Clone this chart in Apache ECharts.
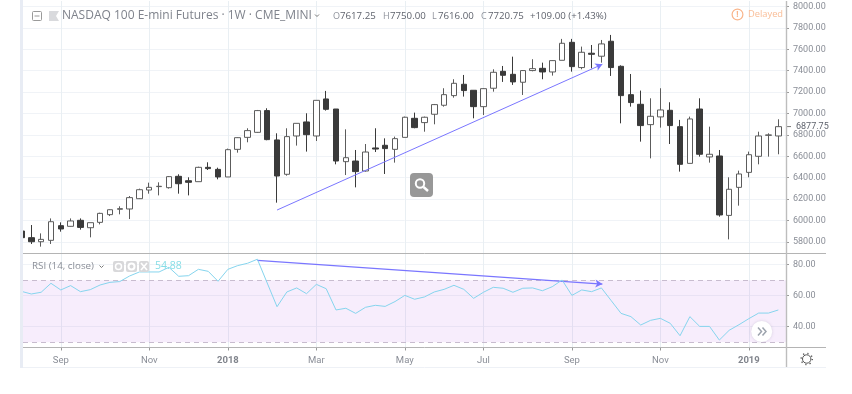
<!DOCTYPE html>
<html><head><meta charset="utf-8">
<style>html,body{margin:0;padding:0;background:#fff}#c{width:852px;height:394px}</style>
<script src="https://cdn.jsdelivr.net/npm/echarts@6/dist/echarts.min.js"></script>
</head><body><div id="c"></div>
<script>
const opens=[5902,5840,5802,5815,5952,5946,6002,5933,5983,6055,6105,6108,6204,6285,6317,6307,6413,6372,6363,6497,6478,6407,6665,6777,6824,7027,6753,6432,6790,6921,6790,7136,7042,6550,6556,6463,6678,6703,6665,6777,6955,6915,6993,7077,7167,7273,7217,7064,7236,7394,7366,7292,7401,7422,7388,7497,7665,7429,7563,7535,7675,7441,7176,7086,6896,6968,7030,6877,6534,7042,6594,6603,6048,6310,6450,6600,6796,6790];
const closes=[5840,5802,5824,5989,5921,5996,5936,5980,6067,6101,6111,6214,6288,6310,6320,6410,6344,6357,6497,6485,6407,6662,6774,6840,7027,6756,6416,6784,6908,6802,7123,7039,6556,6587,6457,6640,6668,6672,6765,6965,6868,6965,7083,7176,7282,7214,7064,7232,7385,7357,7295,7401,7419,7388,7494,7656,7438,7572,7553,7650,7429,7167,7102,6887,6974,7033,6887,6525,6949,6619,6619,6052,6292,6435,6615,6790,6800,6877];
const lows=[5834,5781,5756,5781,5896,5943,5915,5843,5964,6042,6058,6014,6201,6251,6235,6298,6251,6235,6363,6472,6385,6407,6634,6731,6820,6750,6167,6419,6700,6644,6743,7027,6525,6425,6310,6457,6640,6435,6541,6777,6862,6830,6899,7064,7148,7158,6955,6986,7204,7295,7267,7173,7394,7320,7354,7497,7391,7413,7422,7475,7351,6908,7064,6737,6581,6868,6715,6457,6534,6597,6541,6036,5824,6139,6404,6525,6597,6619];
const highs=[5918,5958,5880,6020,5983,6020,6020,5980,6073,6105,6133,6229,6298,6354,6357,6416,6432,6404,6503,6544,6494,6672,6777,6862,7033,7049,6815,6862,6908,7002,7123,7211,7042,6852,6659,6715,6862,6768,6784,6971,7008,6971,7089,7236,7320,7360,7217,7236,7413,7444,7531,7405,7507,7475,7497,7697,7697,7625,7640,7687,7734,7450,7369,7214,7142,7236,7105,6940,6971,7142,6877,6659,6404,6466,6644,6830,6815,6946];
const rsi=[62.8,61.1,62.2,68.0,63.7,66.5,62.6,63.9,66.9,68.6,69.1,72.7,75.3,75.3,75.3,78.3,72.5,72.9,77.0,75.7,69.3,77.0,79.4,80.9,83.5,68.2,52.9,62.4,65.0,61.3,67.3,64.5,50.8,51.9,48.6,52.5,53.8,53.1,56.2,60.2,57.7,59.2,62.4,64.1,66.7,64.1,58.3,62.2,65.4,64.8,62.2,64.8,65.0,63.2,65.8,70.1,60.2,63.7,62.6,65.0,56.8,48.6,46.5,41.1,44.1,45.4,42.2,34.2,46.5,40.2,40.2,31.4,37.7,41.3,45.2,48.8,48.8,50.8];
const tickWeeks=[4,13,21,30,39,47,56,65,74];
const tickLabels=['Sep','Nov','2018','Mar','May','Jul','Sep','Nov','2019'];
const priceTicks=[5800,6000,6200,6400,6600,6800,7000,7200,7400,7600,7800,8000];
const rsiTicks=[40,60,80];
const priceTrend=[[26,6098],[59.1,7460]];
const rsiTrend=[[24,82.8],[59.1,67.5]];
const lastPrice=6877.75;

const font='"Open Sans",sans-serif', axFont='Roboto,sans-serif';
const candles=opens.map((o,i)=>[i,o,closes[i],lows[i],highs[i]]);
const xMin=0.156,xMax=77.78;
const L=23,Rx=786,gridV='#e9eff3',gridH='#f0f3f7',frame='#b4b4b4',txt='#8a8e97',arrow='#7a76ff';
const xBase=(i,extra)=>Object.assign({type:'value',gridIndex:i,min:xMin,max:xMax,
  axisLine:{show:false},
  axisTick:{show:false,customValues:tickWeeks},
  axisLabel:{show:false,customValues:tickWeeks},
  splitLine:{show:true,lineStyle:{color:gridV,width:1}}},extra||{});
const yBase=(i,min,max,ticks)=>({type:'value',gridIndex:i,position:'right',min,max,
  axisLine:{show:false},
  axisTick:{show:true,length:3,inside:false,lineStyle:{color:'#9a9a9a'},customValues:ticks},
  axisLabel:{show:true,margin:7,padding:[2,0,0,0],color:txt,fontFamily:axFont,fontSize:9,customValues:ticks,formatter:v=>v.toFixed(2)},
  splitLine:{show:true,lineStyle:{color:gridH,width:1}}});
const T=(x,y,text,fill,size,extra)=>({type:'text',z:62,x,y,style:Object.assign({text,fill,fontSize:size,fontFamily:font,textVerticalAlign:'middle'},extra||{})});
const line=(x1,y1,x2,y2,c,w)=>({type:'line',z:50,shape:{x1,y1,x2,y2},style:{stroke:c,lineWidth:w||1}});
const box=(x,y,width,height,fill,r)=>({type:'rect',z:50,shape:{x,y,width,height,r:r||0},style:{fill}});
const dark='#5f636d',light='#8f939c';
const graphics=[
  box(0,0,20,394,'#fff'),
  box(20,0,3,368,'#e8ecf4'),
  line(23,367.5,826,367.5,'#eef1f6'),
  line(23,253.5,826,253.5,frame),
  line(23,347.5,826,347.5,frame),
  line(786.5,1,786.5,367,'#bdbdbd',1.4),
  {type:'rect',z:60,shape:{x:32.5,y:11.5,width:9,height:9,r:1},style:{fill:'#fff',stroke:'#9a9a9a'}},
  {type:'line',z:61,shape:{x1:34.5,y1:16,x2:39.5,y2:16},style:{stroke:'#9a9a9a'}},
  {type:'polygon',z:60,shape:{points:[[49,11],[59,11],[56,16],[59,21],[49,21]]},style:{fill:'#d9dadd'}},
  T(62,16,'NASDAQ 100 E-mini Futures · 1W · CME_MINI','#7f838c',12),
  {type:'polyline',z:60,shape:{points:[[315,14.5],[317,16.5],[319,14.5]]},style:{stroke:'#777',fill:null}},
  T(333,16.5,'O',light,9),T(340,16.5,'7617.25',dark,9.7),
  T(383,16.5,'H',light,9),T(390,16.5,'7750.00',dark,9.7),
  T(432,16.5,'L',light,9),T(438,16.5,'7616.00',dark,9.7),
  T(481,16.5,'C',light,9),T(488,16.5,'7720.75',dark,9.7),
  T(530,16.5,'+109.00 (+1.43%)',dark,9.7),
  {type:'circle',z:60,shape:{cx:737.5,cy:14.5,r:5.4},style:{fill:'#fff',stroke:'#f9b48a',lineWidth:1.2}},
  T(737.5,14.5,'!','#f9b48a',8,{textAlign:'center',fontWeight:'bold'}),
  T(748,14.5,'Delayed','#f9bd97',9.3),
  T(32,266.5,'RSI (14, close)','#8a8e97',9.8),
  {type:'polyline',z:60,shape:{points:[[99.5,265.5],[101.5,267.5],[103.5,265.5]]},style:{stroke:'#777',fill:null}},
  box(113,261,11,11,'#d8d8da',2),box(126,261,11,11,'#d8d8da',2),box(139,261,10,11,'#d8d8da',2),
  {type:'circle',z:61,shape:{cx:118.5,cy:266.5,r:3},style:{fill:null,stroke:'#fff',lineWidth:1.5}},
  {type:'circle',z:61,shape:{cx:131.5,cy:266.5,r:3},style:{fill:null,stroke:'#fff',lineWidth:2}},
  {type:'line',z:61,shape:{x1:141,y1:263,x2:147,y2:270},style:{stroke:'#fff',lineWidth:1.6}},
  {type:'line',z:61,shape:{x1:147,y1:263,x2:141,y2:270},style:{stroke:'#fff',lineWidth:1.6}},
  T(155,266.5,'54.88','#86dde6',10.5),
  box(410,173,23,24,'#989898',4),
  {type:'circle',z:61,shape:{cx:420,cy:183.5,r:4.2},style:{fill:null,stroke:'#fff',lineWidth:2}},
  {type:'line',z:61,shape:{x1:423.5,y1:187,x2:428,y2:191},style:{stroke:'#fff',lineWidth:2.4}},
  {type:'circle',z:60,shape:{cx:761.7,cy:331.5,r:10.5},style:{fill:'#fff',shadowBlur:3,shadowColor:'rgba(120,120,140,.25)'}},
  {type:'polyline',z:61,shape:{points:[[758,327.5],[761.5,331.5],[758,335.5]]},style:{stroke:'#9ca3ad',lineWidth:1.5,fill:null}},
  {type:'polyline',z:61,shape:{points:[[762.5,327.5],[766,331.5],[762.5,335.5]]},style:{stroke:'#9ca3ad',lineWidth:1.5,fill:null}},
  {type:'circle',z:60,shape:{cx:806.7,cy:359,r:4.2},style:{fill:'#fff',stroke:'#555'}},
  {type:'circle',z:60,shape:{cx:806.7,cy:359,r:5.6},style:{fill:null,stroke:'#555',lineWidth:1.4,lineDash:[1.2,3.2]}}
];
const chart=echarts.init(document.getElementById('c'),null,{renderer:'canvas'});
chart.setOption({
  animation:false,backgroundColor:'#fff',
  grid:[{left:L,top:1,width:Rx-L,height:252.5},{left:L,top:253.5,width:Rx-L,height:94}],
  xAxis:[xBase(0),xBase(1,{
    axisTick:{show:true,length:3,lineStyle:{color:'#9a9a9a'},customValues:tickWeeks},
    axisLabel:{show:true,margin:8,color:txt,fontFamily:axFont,fontSize:9.5,customValues:tickWeeks,hideOverlap:false,
      formatter:v=>{const s=tickLabels[tickWeeks.indexOf(Math.round(v))]||'';return /^\d/.test(s)?'{b|'+s+'}':s},
      rich:{b:{fontWeight:'bold',color:'#80848c',fontFamily:axFont,fontSize:9.5}}}
  })],
  yAxis:[yBase(0,5692,8051,priceTicks),yBase(1,26.6,87.2,rsiTicks)],
  series:[
    {type:'candlestick',xAxisIndex:0,yAxisIndex:0,barWidth:6,clip:true,data:candles,
     itemStyle:{color:'#ffffff',color0:'#3a3a3a',borderColor:'#5c5c5c',borderColor0:'#3a3a3a',borderWidth:1},
     markLine:{silent:true,symbol:['none','arrow'],symbolSize:[6,7],precision:4,label:{show:false},
       lineStyle:{color:arrow,width:1,type:'solid'},
       data:[[{coord:priceTrend[0]},{coord:priceTrend[1]}]]},
     markPoint:{silent:true,symbol:'rect',symbolSize:[4,1],symbolOffset:[3,0],itemStyle:{color:'#777'},
       label:{show:true,position:'right',distance:5,padding:[2,0,0,0],color:'#5f636d',fontFamily:axFont,fontSize:9,formatter:()=>lastPrice.toFixed(2)},
       data:[{coord:[xMax,lastPrice]}]}},
    {type:'line',xAxisIndex:1,yAxisIndex:1,data:rsi.map((v,i)=>[i,v]),showSymbol:false,symbol:'none',
     lineStyle:{color:'#86d5ee',width:1},z:5,
     markArea:{silent:true,itemStyle:{color:'rgba(178,80,230,0.1)'},data:[[{yAxis:70},{yAxis:30}]]},
     markLine:{silent:true,symbol:'none',label:{show:false},lineStyle:{color:'#c8bccf',width:1,type:[5,4]},data:[{yAxis:70},{yAxis:30}]}},
    {type:'line',xAxisIndex:1,yAxisIndex:1,data:[],
     markLine:{silent:true,symbol:['none','arrow'],symbolSize:[6,7],precision:4,label:{show:false},
       lineStyle:{color:arrow,width:1.2,type:'solid'},
       data:[[{coord:rsiTrend[0]},{coord:rsiTrend[1]}]]}}
  ],
  graphic:graphics
});
</script></body></html>
